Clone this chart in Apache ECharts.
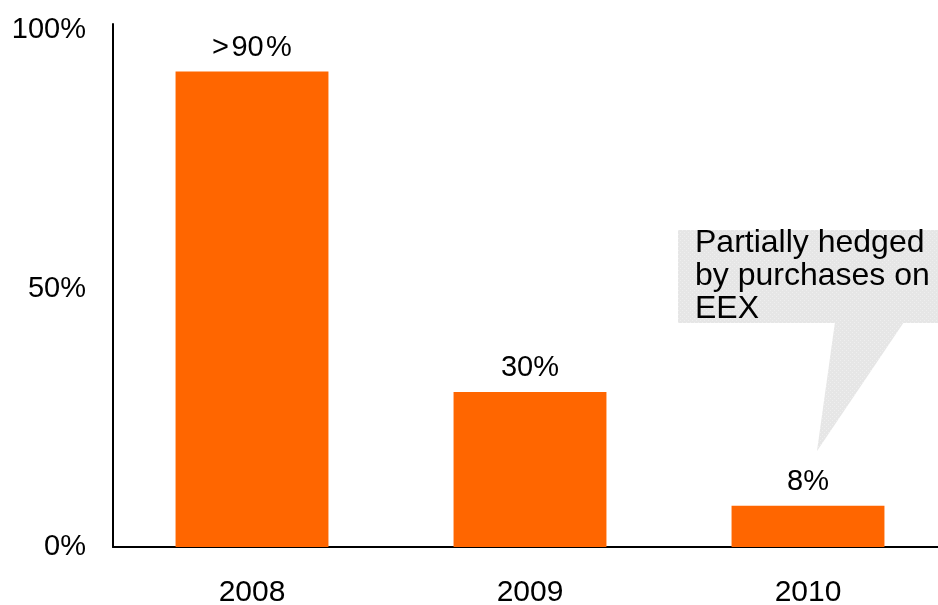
<!DOCTYPE html>
<html>
<head>
<meta charset="utf-8">
<script src="https://cdn.jsdelivr.net/npm/echarts@6/dist/echarts.min.js"></script>
<style>
  html, body { margin: 0; padding: 0; background: #fff; }
  #chart { width: 938px; height: 605px; }
</style>
</head>
<body>
<div id="chart"></div>
<script>
// Hedged share of output per year
const years = ['2008', '2009', '2010'];
const hedgedShare = [92, 30, 8];
const barLabels = ['>\u200a90\u200a%', '30%', '8%'];
const yTickValues = [0, 50, 100];
const calloutLines = ['Partially hedged', 'by purchases on', 'EEX'];

const FONT = '"Liberation Sans", Arial, sans-serif';
const ORANGE = '#FF6600';

// light dotted fill for the callout bubble
function dotPattern() {
  const c = document.createElement('canvas');
  c.width = 4; c.height = 4;
  const g = c.getContext('2d');
  g.fillStyle = '#e6e6e6';
  g.fillRect(0, 0, 4, 4);
  g.fillStyle = '#efefef';
  g.fillRect(0, 0, 1, 1);
  g.fillRect(2, 2, 1, 1);
  return { image: c, repeat: 'repeat' };
}

const chart = echarts.init(document.getElementById('chart'), null, { renderer: 'canvas' });
const pattern = dotPattern();

chart.setOption({
  animation: false,
  backgroundColor: '#ffffff',
  // the plot runs past the right edge, so the last band is cut off
  grid: {
    left: 113, width: 834, top: 24, height: 523,
    containLabel: false,
    outerBoundsMode: 'none'
  },
  xAxis: {
    type: 'category',
    data: years,
    axisLine: { show: true, lineStyle: { color: '#000', width: 2 } },
    axisTick: { show: false },
    axisLabel: { color: '#000', fontSize: 30, fontFamily: FONT, margin: 31 },
    splitLine: { show: false }
  },
  yAxis: {
    type: 'value',
    min: 0,
    max: 101.2,
    axisLine: { show: true, lineStyle: { color: '#000', width: 2 } },
    axisTick: { show: false },
    splitLine: { show: false },
    axisLabel: {
      customValues: yTickValues,
      color: '#000',
      fontSize: 29,
      fontFamily: FONT,
      margin: 27,
      formatter: v => v + '%'
    }
  },
  series: [{
    type: 'bar',
    data: hedgedShare,
    barWidth: '55%',
    itemStyle: { color: ORANGE },
    label: {
      show: true,
      position: 'top',
      distance: 9,
      color: '#000',
      fontSize: 29,
      fontFamily: FONT,
      formatter: p => barLabels[p.dataIndex]
    }
  }],
  graphic: [
    {
      type: 'polygon',
      z: 10,
      shape: { points: [[835, 322], [904, 322], [817, 451]] },
      style: { fill: pattern }
    },
    {
      type: 'rect',
      z: 10,
      shape: { x: 678, y: 230, width: 270, height: 93 },
      style: { fill: pattern }
    },
    {
      type: 'text',
      z: 11,
      x: 695,
      y: 227,
      style: {
        text: calloutLines.join('\n'),
        fill: '#000',
        font: '32px ' + FONT,
        lineHeight: 33
      }
    }
  ]
});
</script>
</body>
</html>
